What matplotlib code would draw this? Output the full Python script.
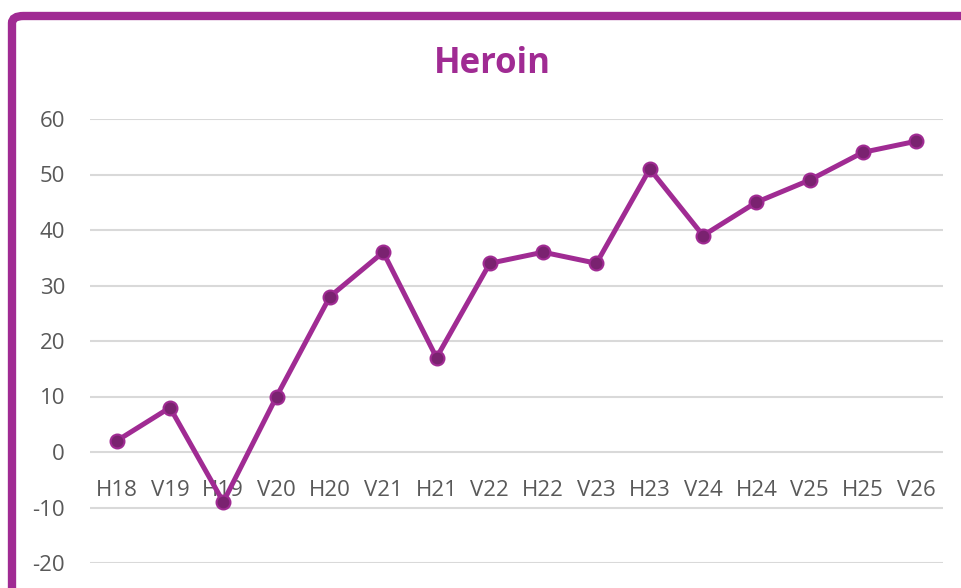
import matplotlib.pyplot as plt
from matplotlib.patches import FancyBboxPatch

periods = ['H18', 'V19', 'H19', 'V20', 'H20', 'V21', 'H21', 'V22',
           'H22', 'V23', 'H23', 'V24', 'H24', 'V25', 'H25', 'V26']
values = [2, 8, -9, 10, 28, 36, 17, 34, 36, 34, 51, 39, 45, 49, 54, 56]
yticks = [-20, -10, 0, 10, 20, 30, 40, 50, 60]

purple = '#A02B93'
dark = '#7A2270'
grey = '#595959'

plt.rcParams['font.family'] = ['Open Sans', 'DejaVu Sans']
plt.rcParams['axes.unicode_minus'] = False

fig = plt.figure(figsize=(9.61, 5.88), dpi=100)
ax = fig.add_axes([90/961, 25/588, 853/961, 444/588])

# frame around the chart (cut off at right and bottom)
W, H = 961, 588
box = FancyBboxPatch((12/W, -0.1), 1.2, (H - 16)/H + 0.1,
                     boxstyle='round,pad=0,rounding_size=0.012',
                     transform=fig.transFigure, fill=False,
                     edgecolor=purple, linewidth=6, clip_on=False)
fig.patches.append(box)

x = list(range(len(periods)))
ax.plot(x, values, color=purple, linewidth=3.6, marker='o', markersize=10,
        markerfacecolor=dark, markeredgecolor=purple, markeredgewidth=1.5,
        solid_capstyle='round', zorder=3)

ax.set_xlim(-0.5, len(periods) - 0.5)
ax.set_ylim(-20, 60)
ax.set_yticks(yticks)
ax.set_xticks(x)
ax.set_xticklabels(periods)
ax.grid(axis='y', color='#D9D9D9', linewidth=1.5)
ax.set_axisbelow(True)

for s in ax.spines.values():
    s.set_visible(False)
ax.spines['bottom'].set_position(('data', 0))
ax.tick_params(axis='both', length=0, labelsize=16, labelcolor=grey)
ax.tick_params(axis='x', pad=20)
ax.tick_params(axis='y', pad=18)

fig.text(492/961, 1 - 64/588, 'Heroin', ha='center', va='center',
         fontsize=25, fontweight='bold', color=purple)

fig.savefig('out.png', dpi=100)
